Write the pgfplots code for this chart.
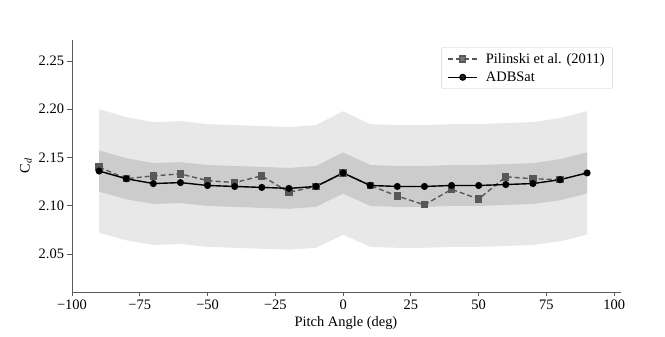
\documentclass[border=0pt]{standalone}
\usepackage{pgfplots}
\pgfplotsset{compat=1.18}
\usepgfplotslibrary{fillbetween}
\usepackage{fontspec}
\setmainfont{Liberation Serif}

\definecolor{bandouter}{RGB}{232,232,232}
\definecolor{bandinner}{RGB}{204,204,204}
\definecolor{pilgray}{RGB}{88,88,88}
\definecolor{spine}{RGB}{90,90,90}

\begin{document}
\begin{tikzpicture}[font=\fontsize{14.5}{17}\selectfont]
\begin{axis}[
    scale only axis,
    width=549bp, height=252bp,
    xmin=-100, xmax=102.5,
    ymin=2.0106, ymax=2.2718,
    axis x line*=bottom, axis y line*=left,
    x axis line style={-, color=spine, line width=0.9bp},
    y axis line style={-, color=spine, line width=0.9bp},
    tick align=outside,
    major tick length=4.5bp,
    every tick/.style={color=spine, line width=0.9bp},
    xtick={-100,-75,-50,-25,0,25,50,75,100},
    xticklabels={−100,−75,−50,−25,0,25,50,75,100},
    ytick={2.05,2.10,2.15,2.20,2.25},
    yticklabels={2.05,2.10,2.15,2.20,2.25},
    xlabel={Pitch Angle (deg)},
    ylabel={C\textsubscript{\textit{d}}},
    xlabel style={at={(axis description cs:0.499,-0.125)}, anchor=center},
    ylabel style={at={(axis description cs:-0.084,0.5)}, anchor=center},
    legend style={at={(rel axis cs:0.985,0.972)}, anchor=north east,
        draw=black!18, rounded corners=2.5bp, fill=white, fill opacity=0.8,
        text opacity=1, inner xsep=6bp, inner ysep=4bp, row sep=3bp,
        /tikz/every odd column/.append style={column sep=6bp}},
    legend cell align=left,
    legend image code/.code={
        \draw[mark repeat=2, mark phase=2] plot coordinates {(0bp,0bp) (14.5bp,0bp) (29bp,0bp)};
    },
]
% outer band (+-3%)
\addplot[draw=none, name path=u3, forget plot] coordinates {
(-90,2.2001)(-80,2.1918)(-70,2.1867)(-60,2.1877)(-50,2.1846)(-40,2.1836)(-30,2.1826)(-20,2.1815)(-10,2.1836)(0,2.1980)
(10,2.1846)(20,2.1836)(30,2.1836)(40,2.1846)(50,2.1846)(60,2.1857)(70,2.1867)(80,2.1908)(90,2.1980)};
\addplot[draw=none, name path=l3, forget plot] coordinates {
(-90,2.0719)(-80,2.0642)(-70,2.0593)(-60,2.0603)(-50,2.0574)(-40,2.0564)(-30,2.0554)(-20,2.0545)(-10,2.0564)(0,2.0700)
(10,2.0574)(20,2.0564)(30,2.0564)(40,2.0574)(50,2.0574)(60,2.0583)(70,2.0593)(80,2.0632)(90,2.0700)};
\addplot[bandouter, forget plot] fill between[of=u3 and l3];
% inner band (+-1%)
\addplot[draw=none, name path=u1, forget plot] coordinates {
(-90,2.1574)(-80,2.1493)(-70,2.1442)(-60,2.1452)(-50,2.1422)(-40,2.1412)(-30,2.1402)(-20,2.1392)(-10,2.1412)(0,2.1553)
(10,2.1422)(20,2.1412)(30,2.1412)(40,2.1422)(50,2.1422)(60,2.1432)(70,2.1442)(80,2.1483)(90,2.1553)};
\addplot[draw=none, name path=l1, forget plot] coordinates {
(-90,2.1146)(-80,2.1067)(-70,2.1018)(-60,2.1028)(-50,2.0998)(-40,2.0988)(-30,2.0978)(-20,2.0968)(-10,2.0988)(0,2.1127)
(10,2.0998)(20,2.0988)(30,2.0988)(40,2.0998)(50,2.0998)(60,2.1008)(70,2.1018)(80,2.1057)(90,2.1127)};
\addplot[bandinner, forget plot] fill between[of=u1 and l1];

\addplot[color=pilgray, line width=1.4bp, dash pattern=on 5bp off 3bp,
    mark=square*, mark size=3bp, mark options={solid}] coordinates {
(-90,2.140)(-80,2.128)(-70,2.131)(-60,2.133)(-50,2.126)(-40,2.124)(-30,2.131)(-20,2.114)(-10,2.120)(0,2.134)
(10,2.121)(20,2.110)(30,2.101)(40,2.117)(50,2.107)(60,2.130)(70,2.128)(80,2.127)};
\addlegendentry{Pilinski et al. (2011)}

\addplot[color=black, line width=1.4bp, mark=*, mark size=2.8bp] coordinates {
(-90,2.136)(-80,2.128)(-70,2.123)(-60,2.124)(-50,2.121)(-40,2.120)(-30,2.119)(-20,2.118)(-10,2.120)(0,2.134)
(10,2.121)(20,2.120)(30,2.120)(40,2.121)(50,2.121)(60,2.122)(70,2.123)(80,2.127)(90,2.134)};
\addlegendentry{ADBSat}
\end{axis}
\pgfresetboundingbox
\path (-72bp,-45bp) rectangle (593bp,292bp);
\end{tikzpicture}
\end{document}
